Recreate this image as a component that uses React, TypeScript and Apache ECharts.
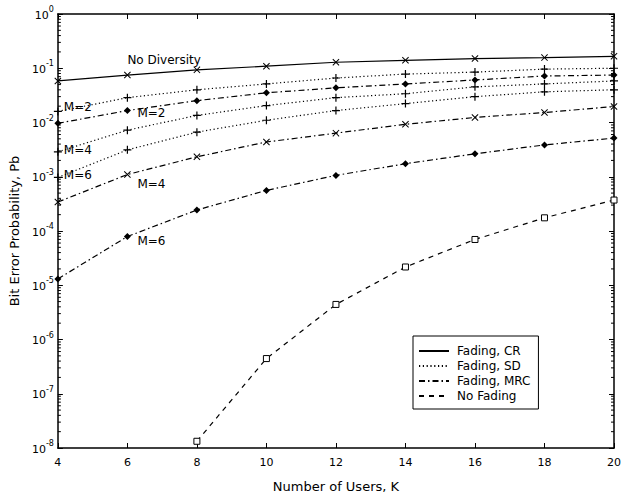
import React, { useEffect, useRef } from "react";
import * as echarts from "echarts";

const users = [4, 6, 8, 10, 12, 14, 16, 18, 20];
const noDiversity = [0.0583, 0.0749, 0.0935, 0.109, 0.129, 0.14, 0.151, 0.157, 0.166];
const sdM2 = [0.016, 0.0287, 0.0401, 0.0514, 0.0661, 0.0781, 0.0849, 0.0964, 0.1];
const sdM4 = [0.00288, 0.00722, 0.0135, 0.0205, 0.0287, 0.0339, 0.0454, 0.0514, 0.0583];
const sdM6 = [0.00097, 0.00313, 0.00664, 0.011, 0.0166, 0.0223, 0.0299, 0.0368, 0.0401];
const mrcM2 = [0.00966, 0.0166, 0.0253, 0.0353, 0.0435, 0.0514, 0.0608, 0.0719, 0.0749];
const mrcM4 = [0.000342, 0.0011, 0.00233, 0.00437, 0.00637, 0.00927, 0.0124, 0.0153, 0.0197];
const mrcM6 = [1.31e-5, 7.9e-5, 2.44e-4, 5.6e-4, 1.06e-3, 1.74e-3, 2.65e-3, 3.86e-3, 5.16e-3];
const noFading = [null, null, 1.33e-8, 4.45e-7, 4.43e-6, 2.17e-5, 6.98e-5, 1.75e-4, 3.72e-4];
const legendNames = ["Fading, CR", "Fading, SD", "Fading, MRC", "No Fading"];
const minorDecades = [-8, -7, -6, -5, -4, -3, -2, -1];
const minorMantissas = [2, 3, 4, 5, 6, 7, 8, 9];

const FONT = "'DejaVu Sans', sans-serif";
const PLUS = "path://M0,3.4L8,3.4L8,4.6L0,4.6ZM3.4,0L4.6,0L4.6,8L3.4,8Z";
const CROSS = "path://M0.8,0L4,3.2L7.2,0L8,0.8L4.8,4L8,7.2L7.2,8L4,4.8L0.8,8L0,7.2L3.2,4L0,0.8Z";
const SOLID: any = "solid";
const DOTTED = [1.2, 2.6];
const DASHDOT = [6, 3, 1.5, 3];
const DASHED = [5, 5];

function mk(values: (number | null)[], size: number, labelIdx: number, labelText: string, offset: number[]) {
  return users.map((x, i) => {
    const v = values[i];
    if (v === null) return [x, null];
    if (i === labelIdx) {
      return {
        value: [x, v],
        label: {
          show: true,
          formatter: labelText,
          position: [size / 2 + offset[0], size / 2 + offset[1]],
          align: "left",
          verticalAlign: "middle",
          color: "#000",
          textBorderWidth: 0,
          fontSize: 12,
          fontFamily: FONT,
        },
      };
    }
    return [x, v];
  });
}

function lineSeries(name: string, values: (number | null)[], type: any, symbol: string, size: number, labelIdx = -1, labelText = "", offset = [0, 0], hollow = false) {
  return {
    name,
    type: "line",
    data: mk(values, size, labelIdx, labelText, offset),
    symbol,
    symbolSize: size,
    showSymbol: true,
    connectNulls: false,
    lineStyle: { color: "#000", width: 1.2, type },
    itemStyle: hollow
      ? { color: "#fff", borderColor: "#000", borderWidth: 1 }
      : { color: "#000", borderWidth: 0 },
    emphasis: { disabled: true },
    z: 3,
  };
}

export default function App() {
  const ref = useRef<HTMLDivElement>(null);
  useEffect(() => {
    if (!ref.current) return;
    const chart = echarts.init(ref.current, null, { renderer: "svg" });
    const minorVals: number[][] = [];
    minorDecades.forEach((d) =>
      minorMantissas.forEach((m) => minorVals.push([4, m * Math.pow(10, d)]))
    );
    const yLabel = {
      formatter: (v: number) => "{b|10}{s|" + Math.round(Math.log10(v)) + "}",
      margin: 4,
      rich: {
        b: { fontSize: 11, fontFamily: FONT, color: "#000", lineHeight: 13, verticalAlign: "bottom" },
        s: { fontSize: 8, fontFamily: FONT, color: "#000", lineHeight: 8, padding: [0, 0, 7, 0], verticalAlign: "bottom" },
      },
    };
    const axisLine = { show: true, lineStyle: { color: "#000", width: 1.5 } };
    const tick = { show: true, inside: true, length: 5, lineStyle: { color: "#000", width: 1 } };
    const nameStyle = { fontSize: 13, fontFamily: FONT, color: "#000" };
    chart.setOption({
      animation: false,
      backgroundColor: "#fff",
      grid: { left: 57, right: 8, top: 14, bottom: 43 },
      xAxis: [
        {
          type: "value",
          min: 4,
          max: 20,
          interval: 2,
          name: "Number of Users, K",
          nameLocation: "middle",
          nameGap: 32,
          nameTextStyle: nameStyle,
          axisLine,
          axisTick: tick,
          axisLabel: { fontSize: 11, fontFamily: FONT, color: "#000", margin: 9 },
          splitLine: { show: false },
        },
        {
          type: "value",
          position: "top",
          min: 4,
          max: 20,
          interval: 2,
          axisLine,
          axisTick: tick,
          axisLabel: { show: false },
          splitLine: { show: false },
        },
      ],
      yAxis: [
        {
          type: "log",
          logBase: 10,
          min: 1e-8,
          max: 1,
          splitNumber: 8,
          name: "Bit Error Probability, Pb",
          nameLocation: "middle",
          nameGap: 36,
          nameTextStyle: nameStyle,
          axisLine,
          axisTick: tick,
          axisLabel: yLabel,
          splitLine: { show: false },
        },
        {
          type: "log",
          logBase: 10,
          min: 1e-8,
          max: 1,
          splitNumber: 8,
          position: "right",
          axisLine,
          axisTick: tick,
          axisLabel: { show: false },
          splitLine: { show: false },
        },
      ],
      legend: {
        data: legendNames,
        orient: "vertical",
        left: 413,
        top: 336,
        backgroundColor: "#fff",
        borderColor: "#000",
        borderWidth: 1,
        padding: [9, 8, 7, 5],
        itemWidth: 30,
        itemHeight: 10,
        itemGap: 3,
        selectedMode: false,
        itemStyle: { color: "transparent", borderColor: "transparent", borderWidth: 0 },
        textStyle: { fontSize: 12, lineHeight: 12, fontFamily: FONT, color: "#000", padding: [0, 0, 0, 3] },
      },
      series: [
        lineSeries("cr", noDiversity, SOLID, CROSS, 7, 1, "No Diversity", [0, -15]),
        lineSeries("sd2", sdM2, DOTTED, PLUS, 8, 0, "M=2", [6, -4]),
        lineSeries("sd4", sdM4, DOTTED, PLUS, 8, 0, "M=4", [6, -2]),
        lineSeries("sd6", sdM6, DOTTED, PLUS, 8, 0, "M=6", [6, -2]),
        lineSeries("mrc2", mrcM2, DASHDOT, "diamond", 7, 1, "M=2", [10, 2]),
        lineSeries("mrc4", mrcM4, DASHDOT, CROSS, 7, 1, "M=4", [10, 9]),
        lineSeries("mrc6", mrcM6, DASHDOT, "diamond", 7, 1, "M=6", [10, 4]),
        lineSeries("nf", noFading, DASHED, "rect", 6, -1, "", [0, 0], true),
        ...legendNames.map((n, i) => ({
          name: n,
          type: "line",
          data: [],
          symbol: "none",
          lineStyle: { color: "#000", width: 1.2, type: [SOLID, DOTTED, DASHDOT, DASHED][i] },
          itemStyle: { color: "#000" },
        })),
        {
          type: "custom",
          name: "minor",
          silent: true,
          clip: false,
          data: minorVals,
          renderItem: (params: any, api: any) => {
            const v = api.value(1);
            const p0 = api.coord([4, v]);
            const p1 = api.coord([20, v]);
            return {
              type: "group",
              children: [
                { type: "line", shape: { x1: p0[0], y1: p0[1], x2: p0[0] + 3, y2: p0[1] }, style: { stroke: "#000", lineWidth: 1 } },
                { type: "line", shape: { x1: p1[0] - 3, y1: p1[1], x2: p1[0], y2: p1[1] }, style: { stroke: "#000", lineWidth: 1 } },
              ],
            };
          },
        },
      ],
    });
    return () => chart.dispose();
  }, []);
  return <div ref={ref} style={{ width: 624, height: 498, position: "absolute", left: 0, top: 0 }} />;
}
